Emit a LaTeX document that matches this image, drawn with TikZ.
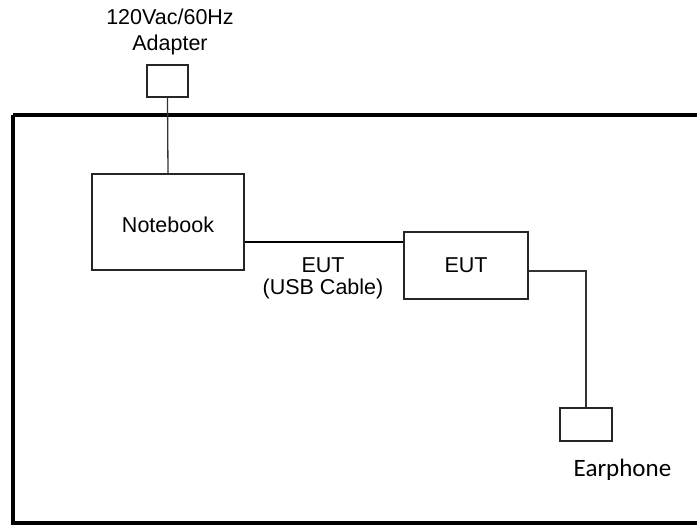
\documentclass[tikz,border=0pt]{standalone}
\usepackage{fontspec}
\setmainfont{Liberation Sans}
\newfontfamily\earfont{Carlito}
\begin{document}
\begin{tikzpicture}[x=1pt, y=-1pt,
    unit/.style={draw=black!85, line width=1.3pt, minimum width=#1, inner sep=0pt},
    wire/.style={draw=black!80, line width=1.3pt},
    lbl/.style={font=\fontsize{21.5}{22}\selectfont, align=center, inner sep=0pt}]
        \useasboundingbox (0,0) rectangle (697,526);
        \clip (0,0) rectangle (697,526);

        % Test table outline (runs past the right edge)
        \draw[black, line width=3.5pt] (13,115) -- (13,523) -- (720,523);
        \draw[black, line width=3.5pt] (13,115) -- (720,115);

        % Units
        \node[unit=41pt, minimum height=32pt] (adapter) at (167.5,81) {};
        \node[lbl, font=\fontsize{21.5}{26}\selectfont] (adaptertxt) at (170,32) {120Vac/60Hz\\Adapter};
        \node[unit=152pt, minimum height=96pt] (notebook) at (168,222) {};
        \node[lbl] (notebooktxt) at (168,225) {Notebook};
        \node[unit=124pt, minimum height=67pt, lbl] (eut) at (466,265.5) {EUT};
        \node[unit=52pt, minimum height=33pt] (earphone) at (586,424.5) {};
        \node[font=\earfont\fontsize{25}{28}\selectfont, inner sep=0pt] (eartxt) at (622.5,470) {Earphone};

        % Cables
        \coordinate (usb) at (0,242);
        \coordinate (ear) at (0,271);
        \draw[wire] (adapter.south) -- (notebook.north);
        \draw[black, line width=1.1pt] (notebook.east |- usb) -- (eut.west |- usb);
        \node[lbl] (usbtxt) at (323,278) {EUT\\(USB Cable)};
        \draw[wire] (eut.east |- ear) -| (earphone.north);
    \end{tikzpicture}
\end{document}
